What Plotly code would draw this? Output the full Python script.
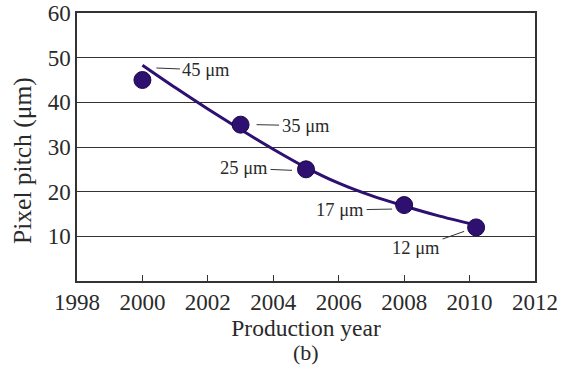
import plotly.graph_objects as go

# Pixel pitch of production sensors by year
years = [2000, 2003, 2005, 2008, 2010.2]
pitch_um = [45, 35, 25, 17, 12]
labels = ["45 μm", "35 μm", "25 μm", "17 μm", "12 μm"]

# Trend curve through the data
trend_years = [2000, 2001, 2002, 2003, 2004, 2005, 2006, 2007, 2008, 2009, 2010.2]
trend_pitch = [48.3, 43.3, 38.5, 33.9, 29.5, 25.4, 21.9, 19.1, 16.8, 14.7, 12.5]

# Leader-line placement for each label: tip shift from point, text offset from tip (pixels)
tip_shift = [(14, 12), (16, 0), (-14, -1), (-12, -4), (-12, -4)]
text_offset = [(50, 2), (49, 1), (-48, -2), (-52, 1), (-48, 17)]

x_ticks = [1998, 2000, 2002, 2004, 2006, 2008, 2010, 2012]
y_ticks = [10, 20, 30, 40, 50, 60]

SERIF = "Liberation Serif"
INK = "#2a2a2a"
PURPLE = "#2d1070"

fig = go.Figure()
fig.add_trace(go.Scatter(
    x=trend_years, y=trend_pitch, mode="lines",
    line=dict(color=PURPLE, width=3, shape="spline", smoothing=0.8),
    hoverinfo="skip", showlegend=False,
))
fig.add_trace(go.Scatter(
    x=years, y=pitch_um, mode="markers",
    marker=dict(size=17, color=PURPLE, line=dict(color="#1a0848", width=1)),
    showlegend=False,
))

for xv, yv, txt, (sx, sy), (ax, ay) in zip(years, pitch_um, labels, tip_shift, text_offset):
    fig.add_annotation(
        x=xv, y=yv, xref="x", yref="y", text=txt,
        xshift=sx, yshift=sy, ax=ax, ay=ay, axref="pixel", ayref="pixel",
        showarrow=True, arrowhead=0, arrowwidth=1, arrowcolor="#333333",
        standoff=0, borderpad=2,
        font=dict(family=SERIF, size=18.5, color=INK),
    )

# Panel tag under the x-axis title
fig.add_annotation(
    x=0.5, y=0, xref="paper", yref="paper", yshift=-71, text="(b)",
    showarrow=False, yanchor="middle", xanchor="center",
    font=dict(family=SERIF, size=22, color=INK),
)

# Y-axis title
fig.add_annotation(
    x=0, y=0.448, xref="paper", yref="paper", xshift=-54, text="Pixel pitch (μm)",
    textangle=-90, showarrow=False, xanchor="center", yanchor="middle",
    font=dict(family=SERIF, size=25.5, color=INK),
)

axis_common = dict(
    showline=True, linecolor="#333333", linewidth=1.5, mirror=True,
    tickfont=dict(family=SERIF, size=23, color=INK),
    zeroline=False, automargin=False,
)

fig.update_xaxes(
    range=[1998, 2012], tickvals=x_ticks, showgrid=False,
    ticks="inside", ticklen=6, tickcolor="#333333", tickwidth=1,
    title=dict(text="Production year", standoff=4,
               font=dict(family=SERIF, size=23.5, color=INK)),
    **axis_common,
)
fig.update_yaxes(
    range=[0, 60], tickvals=y_ticks, showgrid=True,
    gridcolor="#333333", gridwidth=1.2, ticks="",
    **axis_common,
)

fig.update_layout(
    width=565, height=365,
    margin=dict(l=77, r=30, t=13, b=84),
    paper_bgcolor="white", plot_bgcolor="white",
    font=dict(family=SERIF, color=INK),
)

fig.write_html("out.html")
